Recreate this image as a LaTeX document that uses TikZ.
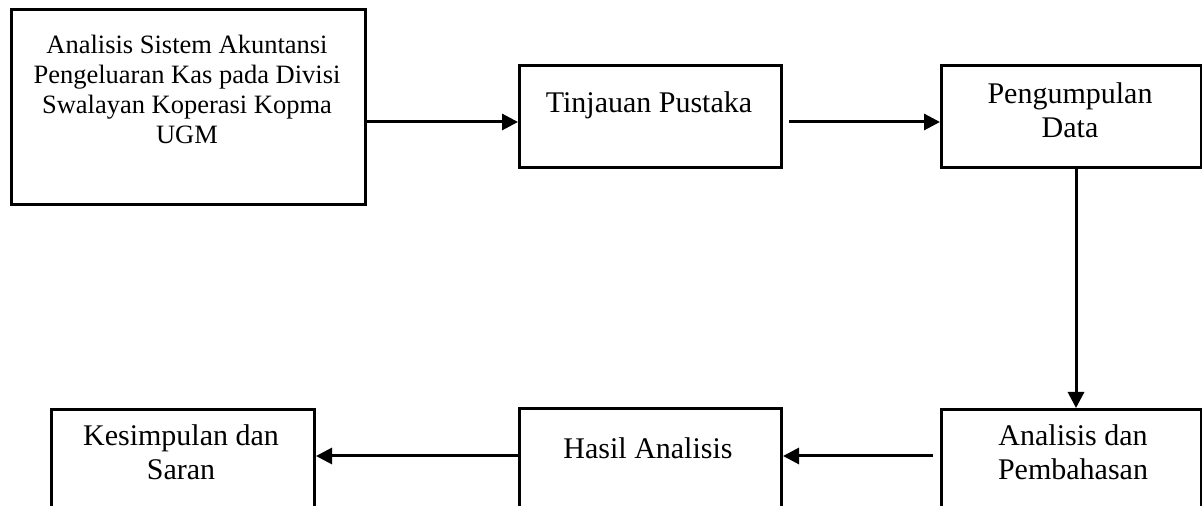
\documentclass[tikz,border=0pt]{standalone}
\usepackage{fontspec}
\setmainfont{Liberation Serif}
\usetikzlibrary{arrows.meta,calc}
\begin{document}
\begin{tikzpicture}[x=0.5pt,y=-0.5pt,
  box/.style={draw,line width=1.5pt,inner sep=0pt,anchor=north west},
  lbl/.style={anchor=north,inner sep=0pt,align=center,font=\fontsize{15pt}{17pt}\selectfont},
  lblsmall/.style={lbl,font=\fontsize{13.25pt}{15pt}\selectfont},
  arr/.style={line width=1.5pt,-{Triangle[length=8pt,width=8pt]}}]
\path[use as bounding box,clip] (0,0) rectangle (1202,506);
% boxes
\node[box,minimum width=177pt,minimum height=97.5pt] (b1) at (10,8) {};
\node[box,minimum width=131pt,minimum height=51pt] (b2) at (518,64) {};
\node[box,minimum width=130pt,minimum height=51pt] (b3) at (940,64) {};
\node[box,minimum width=131.5pt,minimum height=51pt] (b4) at (50,408) {};
\node[box,minimum width=131pt,minimum height=51pt] (b5) at (518,407) {};
\node[box,minimum width=130pt,minimum height=51pt] (b6) at (940,408) {};
% labels
\node[lblsmall] (t1) at (187,32) {\strut Analisis Sistem Akuntansi\\Pengeluaran Kas pada Divisi\\Swalayan Koperasi Kopma\\UGM};
\node[lbl] (t2) at (649,88.2) {\strut Tinjauan Pustaka};
\node[lbl] (t3) at (1070,79.2) {\strut Pengumpulan\\Data};
\node[lbl] (t4) at (181,421.2) {\strut Kesimpulan dan\\Saran};
\node[lbl] (t5) at (648,434.2) {\strut Hasil Analisis};
\node[lbl] (t6) at (1073,421.2) {\strut Analisis dan\\Pembahasan};
% connectors
\coordinate (y1) at (0,122);
\coordinate (y2) at (0,456);
\coordinate (xv) at (1076,0);
\coordinate (a2s) at ([xshift=3pt]b2.east);
\coordinate (a4s) at ([xshift=-3.5pt]b6.west);
\draw[arr] (b1.east |- y1) -- (b2.west |- y1);
\draw[arr] (a2s |- y1) -- (b3.west |- y1);
\draw[arr] (b3.south -| xv) -- (b6.north -| xv);
\draw[arr] (a4s |- y2) -- (b5.east |- y2);
\draw[arr] (b5.west |- y2) -- (b4.east |- y2);
\end{tikzpicture}
\end{document}
